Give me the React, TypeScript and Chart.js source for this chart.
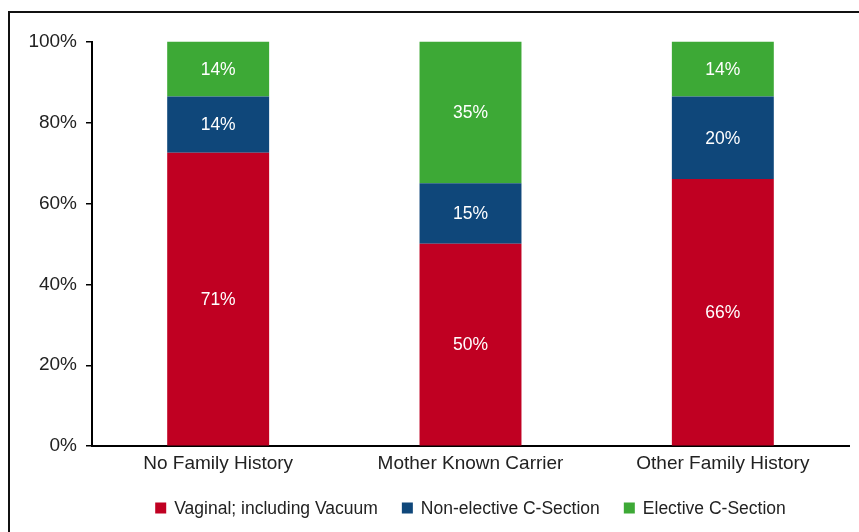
import React, { useEffect, useRef } from "react";
import { Chart, registerables } from "chart.js";

Chart.register(...registerables);

const FONT = '"Liberation Sans", Arial, Helvetica, sans-serif';

const categories = ["No Family History", "Mother Known Carrier", "Other Family History"];
const seriesNames = ["Vaginal; including Vacuum", "Non-elective C-Section", "Elective C-Section"];
const seriesColors = ["#C00022", "#0F477A", "#3DA936"];

// bar heights (share of 100%)
const vaginal = [72.5, 50, 66];
const nonElective = [13.9, 15, 20.4];
const elective = [13.6, 35, 13.6];

// printed labels inside the bars
const vaginalLabels = ["71%", "50%", "66%"];
const nonElectiveLabels = ["14%", "15%", "20%"];
const electiveLabels = ["14%", "35%", "14%"];

const yMin = 0;
const yMax = 100;
const yStep = 20;

const seriesValues = [vaginal, nonElective, elective];
const seriesLabels = [vaginalLabels, nonElectiveLabels, electiveLabels];

const framePlugin = {
  id: "frame",
  beforeDraw(chart: any) {
    const ctx = chart.ctx;
    ctx.save();
    ctx.fillStyle = "#ffffff";
    ctx.fillRect(0, 0, chart.width, chart.height);
    ctx.fillStyle = "#111111";
    ctx.fillRect(0, 3, chart.width, 2);
    ctx.fillRect(0, 3, 2, chart.height);
    ctx.restore();
  },
};

const barLabelPlugin = {
  id: "barLabels",
  afterDatasetsDraw(chart: any) {
    const ctx = chart.ctx;
    ctx.save();
    ctx.font = `17.5px ${FONT}`;
    ctx.fillStyle = "#ffffff";
    ctx.textAlign = "center";
    ctx.textBaseline = "middle";
    chart.data.datasets.forEach((ds: any, i: number) => {
      const meta = chart.getDatasetMeta(i);
      meta.data.forEach((el: any, j: number) => {
        const p = el.getProps(["x", "y", "base"], true);
        ctx.fillText(seriesLabels[i][j], p.x, (p.y + p.base) / 2 + 1);
      });
    });
    ctx.restore();
  },
};

const legendPlugin = {
  id: "customLegend",
  afterDraw(chart: any) {
    const ctx = chart.ctx;
    const ca = chart.chartArea;
    ctx.save();
    ctx.font = `17.5px ${FONT}`;
    const box = 11;
    const gap = 8;
    const spacing = 24;
    const items = chart.data.datasets.map((d: any) => ({
      text: d.label,
      color: d.backgroundColor,
      w: ctx.measureText(d.label).width,
    }));
    const total =
      items.reduce((s: number, it: any) => s + box + gap + it.w, 0) + spacing * (items.length - 1);
    let x = (ca.left + ca.right) / 2 - total / 2;
    const y = chart.height - 24;
    ctx.textBaseline = "middle";
    ctx.textAlign = "left";
    items.forEach((it: any) => {
      ctx.fillStyle = it.color;
      ctx.fillRect(x, y - box / 2, box, box);
      ctx.fillStyle = "#222222";
      ctx.fillText(it.text, x + box + gap, y + 1);
      x += box + gap + it.w + spacing;
    });
    ctx.restore();
  },
};

export default function App() {
  const ref = useRef<HTMLCanvasElement | null>(null);

  useEffect(() => {
    if (!ref.current) return;
    const chart = new Chart(ref.current, {
      type: "bar",
      data: {
        labels: categories,
        datasets: seriesNames.map((name, i) => ({
          label: name,
          data: seriesValues[i],
          backgroundColor: seriesColors[i],
          borderWidth: 0,
          categoryPercentage: 1,
          barPercentage: 0.404,
        })),
      },
      options: {
        animation: false,
        responsive: true,
        maintainAspectRatio: false,
        layout: { padding: { top: 33.5, right: 10, bottom: 51, left: 0 } },
        plugins: {
          legend: { display: false },
          tooltip: { enabled: false },
        },
        scales: {
          x: {
            stacked: true,
            grid: { display: false, drawTicks: false },
            border: { display: true, color: "#000000", width: 2 },
            ticks: { color: "#222222", font: { family: FONT, size: 19 }, padding: 6 },
          },
          y: {
            stacked: true,
            min: yMin,
            max: yMax,
            afterFit(scale: any) {
              scale.width = 84;
            },
            grid: {
              drawOnChartArea: false,
              drawTicks: true,
              tickLength: 6,
              color: "#000000",
              lineWidth: 1.5,
            },
            border: { display: true, color: "#000000", width: 2 },
            ticks: {
              stepSize: yStep,
              color: "#222222",
              font: { family: FONT, size: 19 },
              padding: 9,
              callback: (v: any) => `${v}%`,
            },
          },
        },
      },
      plugins: [framePlugin, barLabelPlugin, legendPlugin],
    });
    return () => chart.destroy();
  }, []);

  return (
    <div style={{ position: "absolute", left: 8, top: 8, width: 851, height: 524 }}>
      <canvas ref={ref} />
    </div>
  );
}
